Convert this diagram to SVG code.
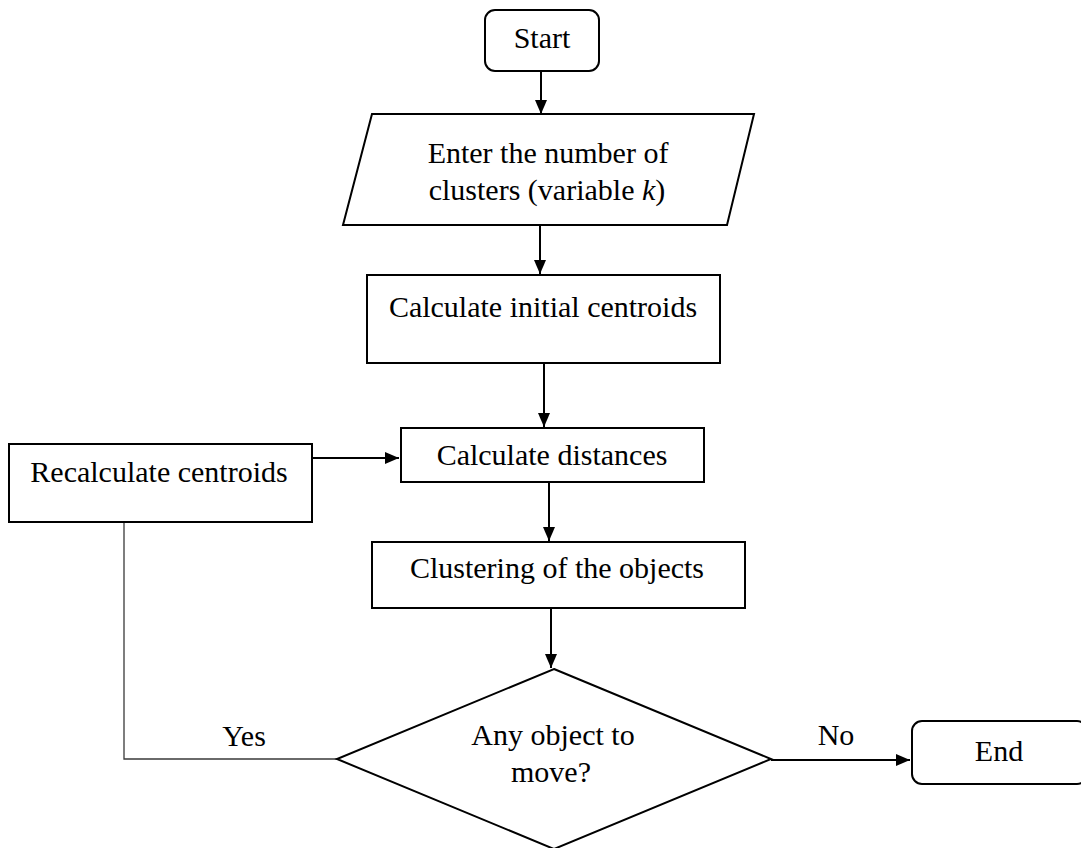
<svg xmlns="http://www.w3.org/2000/svg" width="1081" height="848" viewBox="0 0 1081 848">
  <style>
    .shape { fill: #ffffff; stroke: #000000; stroke-width: 2; }
    .label { font-family: "Liberation Serif", "Times New Roman", serif; font-size: 30px; fill: #000000; text-anchor: middle; }
    .flow { fill: none; stroke: #000000; stroke-width: 2; }
    .thin { fill: none; stroke: #3a3a3a; stroke-width: 1.3; }
  </style>
  <defs>
    <marker id="arrow" viewBox="0 0 14 12" refX="14" refY="6" markerWidth="14" markerHeight="12" markerUnits="userSpaceOnUse" orient="auto">
      <path d="M0,0 L14,6 L0,12 Z" fill="#000000"/>
    </marker>
  </defs>
  <rect width="1081" height="848" fill="#ffffff"/>

  <g id="connectors">
    <line class="flow" x1="541" y1="71" x2="541" y2="114" marker-end="url(#arrow)"/>
    <line class="flow" x1="540" y1="225" x2="540" y2="274" marker-end="url(#arrow)"/>
    <line class="flow" x1="544" y1="364" x2="544" y2="427" marker-end="url(#arrow)"/>
    <line class="flow" x1="311" y1="458" x2="399" y2="458" marker-end="url(#arrow)"/>
    <line class="flow" x1="549" y1="482" x2="549" y2="541" marker-end="url(#arrow)"/>
    <line class="flow" x1="551" y1="608" x2="551" y2="668" marker-end="url(#arrow)"/>
    <line class="flow" x1="771" y1="760" x2="910" y2="760" marker-end="url(#arrow)"/>
    <polyline class="thin" points="124,522 124,759 337,759"/>
    <text class="label" x="244" y="746">Yes</text>
    <text class="label" x="836" y="745">No</text>
  </g>

  <g id="start">
    <rect class="shape" x="485" y="10" width="114" height="61" rx="10" ry="10"/>
    <text class="label" x="542" y="48">Start</text>
  </g>

  <g id="input-k">
    <polygon class="shape" points="372,114 754,114 727,225 343,225"/>
    <text class="label" x="548" y="163">Enter the number of</text>
    <text class="label" x="547" y="200">clusters (variable <tspan font-style="italic">k</tspan>)</text>
  </g>

  <g id="initial-centroids">
    <rect class="shape" x="367" y="275" width="353" height="88"/>
    <text class="label" x="543" y="317">Calculate initial centroids</text>
  </g>

  <g id="distances">
    <rect class="shape" x="401" y="428" width="303" height="54"/>
    <text class="label" x="552" y="465">Calculate distances</text>
  </g>

  <g id="recalculate">
    <rect class="shape" x="9" y="444" width="303" height="78"/>
    <text class="label" x="159" y="482">Recalculate centroids</text>
  </g>

  <g id="clustering">
    <rect class="shape" x="372" y="542" width="373" height="66"/>
    <text class="label" x="557" y="578">Clustering of the objects</text>
  </g>

  <g id="decision">
    <polygon class="shape" points="554,669 771,759 554,849 337,759"/>
    <text class="label" x="553" y="745">Any object to</text>
    <text class="label" x="551" y="782">move?</text>
  </g>

  <g id="end">
    <rect class="shape" x="912" y="721" width="175" height="63" rx="10" ry="10"/>
    <text class="label" x="999" y="761">End</text>
  </g>
</svg>
